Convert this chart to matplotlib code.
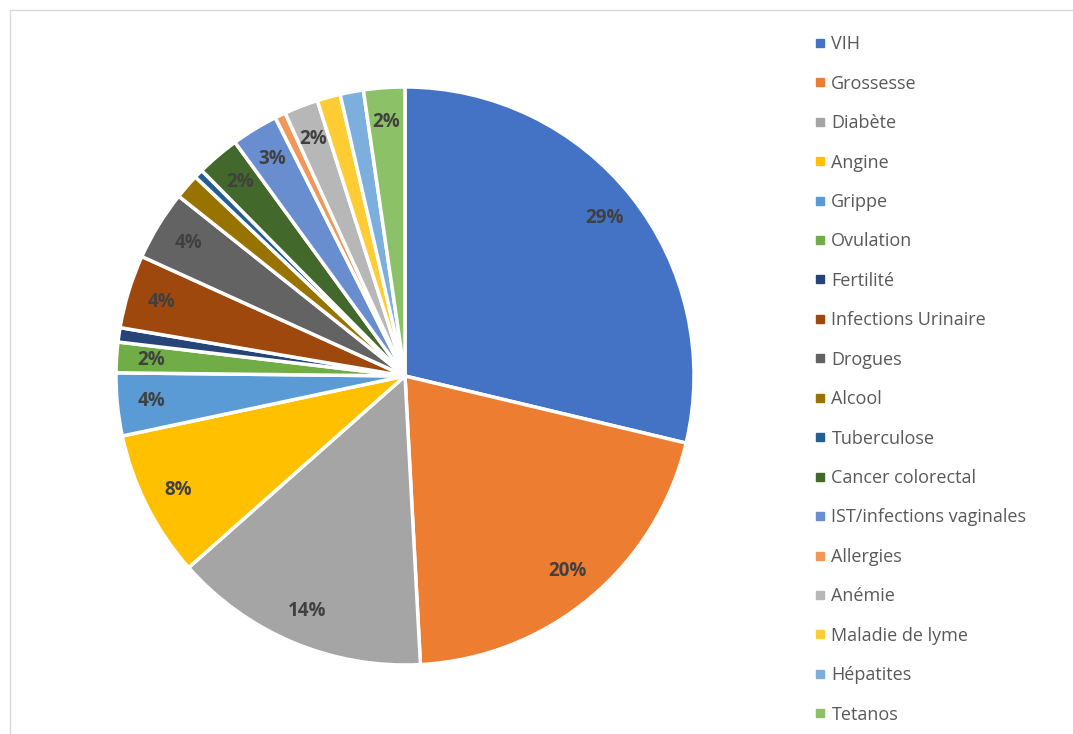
import matplotlib
matplotlib.use("Agg")
import matplotlib.pyplot as plt
from matplotlib.lines import Line2D
from matplotlib.patches import Rectangle

plt.rcParams['font.family'] = ['Open Sans', 'DejaVu Sans']

# Data (shares in %)
categories = ['VIH', 'Grossesse', 'Diabète', 'Angine', 'Grippe', 'Ovulation',
              'Fertilité', 'Infections Urinaire', 'Drogues', 'Alcool',
              'Tuberculose', 'Cancer colorectal', 'IST/infections vaginales',
              'Allergies', 'Anémie', 'Maladie de lyme', 'Hépatites', 'Tetanos']
shares = [28.7, 20.4, 14.3, 8.2, 3.5, 1.7, 0.8, 4.1, 3.9, 1.4,
          0.5, 2.4, 2.6, 0.6, 1.9, 1.3, 1.3, 2.3]
colors = ['#4472C4', '#ED7D31', '#A5A5A5', '#FFC000', '#5B9BD5', '#70AD47',
          '#264478', '#9E480E', '#636363', '#997300', '#255E91', '#43682B',
          '#698ED0', '#F1975A', '#B7B7B7', '#FFCD33', '#7CAFDD', '#8CC168']

fig = plt.figure(figsize=(10.73, 7.34), dpi=100)

# light chart border like the Excel chart area
fig.patches.append(Rectangle((10 / 1073, -0.01), 1.1, 1 - 10 / 734 + 0.01,
                             transform=fig.transFigure, fill=False,
                             edgecolor='#D9D9D9', linewidth=1))

ax = fig.add_axes([0.1081, 0.094, 0.5387, 0.7875])


def pct_label(p):
    return f'{p:.0f}%' if p >= 1.5 else ''


wedges, texts, autotexts = ax.pie(
    shares, colors=colors, startangle=90, counterclock=False,
    autopct=pct_label, pctdistance=0.88,
    wedgeprops=dict(edgecolor='white', linewidth=2.5),
    textprops=dict(color='#404040', fontsize=13.5, fontweight='bold'))
ax.set_xlim(-1, 1)
ax.set_ylim(-1, 1)
ax.set_aspect('equal')

handles = [Line2D([], [], marker='s', linestyle='none', markersize=6,
                  markerfacecolor=c, markeredgecolor=c) for c in colors]
fig.legend(handles, categories, loc='upper left',
           bbox_to_anchor=(807 / 1073, 1 - 28 / 734), frameon=False,
           fontsize=13, labelcolor='#595959', handlelength=0.6,
           handletextpad=0.35, labelspacing=1.187, borderaxespad=0)

fig.savefig('out.png', dpi=100)
